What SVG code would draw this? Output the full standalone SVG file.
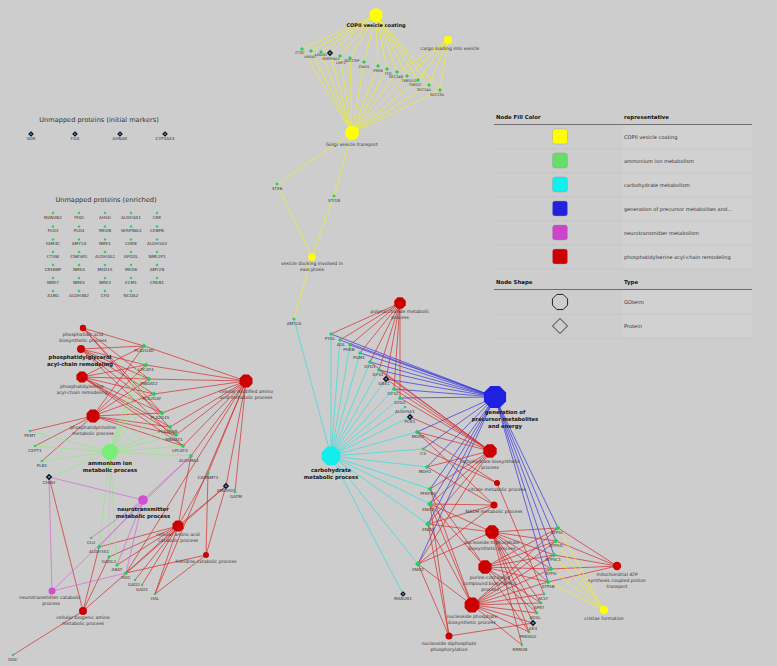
<svg xmlns="http://www.w3.org/2000/svg" xmlns:xlink="http://www.w3.org/1999/xlink" width="777" height="666" viewBox="0 0 777 666">
<style>
.t{font-family:"DejaVu Sans",sans-serif;font-size:4.2px;fill:#333;text-anchor:middle}
.gt{font-size:4.6px}
.sm{font-size:3.6px}
.bt{font-family:"DejaVu Sans",sans-serif;font-size:5.3px;font-weight:bold;fill:#111;text-anchor:middle}
.ti{font-family:"DejaVu Sans",sans-serif;font-size:6.6px;fill:#333;text-anchor:middle}
.lh{font-family:"DejaVu Sans",sans-serif;font-size:5.4px;font-weight:bold;fill:#111}
.lt{font-family:"DejaVu Sans",sans-serif;font-size:5.1px;fill:#333}
#edges line{stroke-width:.7}
.r{stroke:#d42a2a}.y{stroke:#f0f020}.c{stroke:#2ee0e0}.b{stroke:#3232e0}.g{stroke:#8ced7a}.m{stroke:#d466d4}
.pn{fill:#22cc66}
.pm{fill:#3aaee8;stroke:#112;stroke-width:.6px;vector-effect:non-scaling-stroke}
.fr{fill:#cc0000}.fy{fill:#ffff00}.fc{fill:#11eeee}.fb{fill:#2020e0}.fg{fill:#77ee77}.fm{fill:#d050d0}
</style>
<defs>
<polygon id="oct" points="0.383,-0.924 0.924,-0.383 0.924,0.383 0.383,0.924 -0.383,0.924 -0.924,0.383 -0.924,-0.383 -0.383,-0.924"/>
<polygon id="dia" points="0,-1 1,0 0,1 -1,0"/>
</defs>
<rect width="777" height="666" fill="#cdcdcd"/>

<g id="edges">
<g class="y">
<line x1="376" y1="15" x2="302" y2="49"/><line x1="376" y1="15" x2="311" y2="51"/><line x1="376" y1="15" x2="321" y2="52"/><line x1="376" y1="15" x2="330" y2="53"/><line x1="376" y1="15" x2="340" y2="56"/><line x1="376" y1="15" x2="350" y2="58"/><line x1="376" y1="15" x2="364" y2="62"/><line x1="376" y1="15" x2="378" y2="66"/><line x1="376" y1="15" x2="387" y2="69"/><line x1="376" y1="15" x2="397" y2="72"/><line x1="376" y1="15" x2="407" y2="76"/><line x1="376" y1="15" x2="418" y2="80"/><line x1="376" y1="15" x2="429" y2="85"/><line x1="376" y1="15" x2="440" y2="90"/>
<line x1="352" y1="133" x2="302" y2="49"/><line x1="352" y1="133" x2="311" y2="51"/><line x1="352" y1="133" x2="321" y2="52"/><line x1="352" y1="133" x2="330" y2="53"/><line x1="352" y1="133" x2="340" y2="56"/><line x1="352" y1="133" x2="350" y2="58"/><line x1="352" y1="133" x2="364" y2="62"/><line x1="352" y1="133" x2="378" y2="66"/><line x1="352" y1="133" x2="387" y2="69"/><line x1="352" y1="133" x2="397" y2="72"/><line x1="352" y1="133" x2="407" y2="76"/><line x1="352" y1="133" x2="418" y2="80"/><line x1="352" y1="133" x2="429" y2="85"/><line x1="352" y1="133" x2="440" y2="90"/>
<line x1="448" y1="40" x2="397" y2="72"/><line x1="448" y1="40" x2="407" y2="76"/><line x1="448" y1="40" x2="418" y2="80"/><line x1="448" y1="40" x2="429" y2="85"/><line x1="448" y1="40" x2="440" y2="90"/>
<line x1="352" y1="133" x2="277" y2="184"/><line x1="352" y1="133" x2="334" y2="196"/><line x1="277" y1="184" x2="312" y2="257"/><line x1="334" y1="196" x2="312" y2="257"/><line x1="312" y1="257" x2="294" y2="319"/>
</g>
<g class="r">
<line x1="83" y1="328" x2="144" y2="346"/><line x1="83" y1="328" x2="149" y2="379"/><line x1="83" y1="328" x2="162" y2="413"/><line x1="83" y1="328" x2="176" y2="435"/>
<line x1="81" y1="349" x2="144" y2="346"/><line x1="81" y1="349" x2="146" y2="365"/><line x1="81" y1="349" x2="149" y2="379"/><line x1="81" y1="349" x2="154" y2="394"/><line x1="81" y1="349" x2="162" y2="413"/><line x1="81" y1="349" x2="183" y2="446"/>
<line x1="82" y1="377" x2="144" y2="346"/><line x1="82" y1="377" x2="146" y2="365"/><line x1="82" y1="377" x2="149" y2="379"/><line x1="82" y1="377" x2="154" y2="394"/><line x1="82" y1="377" x2="162" y2="413"/><line x1="82" y1="377" x2="170" y2="427"/><line x1="82" y1="377" x2="176" y2="435"/><line x1="82" y1="377" x2="183" y2="446"/>
<line x1="93" y1="416" x2="144" y2="346"/><line x1="93" y1="416" x2="146" y2="365"/><line x1="93" y1="416" x2="149" y2="379"/><line x1="93" y1="416" x2="154" y2="394"/><line x1="93" y1="416" x2="162" y2="413"/><line x1="93" y1="416" x2="170" y2="427"/><line x1="93" y1="416" x2="176" y2="435"/><line x1="93" y1="416" x2="183" y2="446"/><line x1="93" y1="416" x2="30" y2="431"/><line x1="93" y1="416" x2="35" y2="446"/><line x1="93" y1="416" x2="42" y2="461"/>
<line x1="246" y1="381" x2="144" y2="346"/><line x1="246" y1="381" x2="146" y2="365"/><line x1="246" y1="381" x2="149" y2="379"/><line x1="246" y1="381" x2="154" y2="394"/><line x1="246" y1="381" x2="162" y2="413"/><line x1="246" y1="381" x2="170" y2="427"/><line x1="246" y1="381" x2="176" y2="435"/><line x1="246" y1="381" x2="183" y2="446"/><line x1="246" y1="381" x2="191" y2="456"/><line x1="246" y1="381" x2="208" y2="473"/><line x1="246" y1="381" x2="226" y2="486"/><line x1="246" y1="381" x2="235" y2="492"/><line x1="246" y1="381" x2="126" y2="573"/><line x1="246" y1="381" x2="155" y2="594"/>
<line x1="178" y1="526" x2="191" y2="456"/><line x1="178" y1="526" x2="208" y2="473"/><line x1="178" y1="526" x2="226" y2="486"/><line x1="178" y1="526" x2="99" y2="547"/><line x1="178" y1="526" x2="109" y2="557"/><line x1="178" y1="526" x2="117" y2="565"/><line x1="178" y1="526" x2="126" y2="573"/><line x1="178" y1="526" x2="135" y2="580"/><line x1="178" y1="526" x2="142" y2="585"/><line x1="178" y1="526" x2="155" y2="594"/>
<line x1="206" y1="555" x2="208" y2="473"/><line x1="206" y1="555" x2="226" y2="486"/><line x1="206" y1="555" x2="126" y2="573"/><line x1="206" y1="555" x2="155" y2="594"/>
<line x1="83" y1="611" x2="49" y2="477"/><line x1="83" y1="611" x2="99" y2="547"/><line x1="83" y1="611" x2="109" y2="557"/><line x1="83" y1="611" x2="226" y2="486"/><line x1="83" y1="611" x2="13" y2="655"/>
</g>
<g class="g">
<line x1="110" y1="452" x2="30" y2="431"/><line x1="110" y1="452" x2="35" y2="446"/><line x1="110" y1="452" x2="42" y2="461"/><line x1="110" y1="452" x2="49" y2="477"/><line x1="110" y1="452" x2="144" y2="346"/><line x1="110" y1="452" x2="146" y2="365"/><line x1="110" y1="452" x2="149" y2="379"/><line x1="110" y1="452" x2="154" y2="394"/><line x1="110" y1="452" x2="162" y2="413"/><line x1="110" y1="452" x2="170" y2="427"/><line x1="110" y1="452" x2="176" y2="435"/><line x1="110" y1="452" x2="183" y2="446"/><line x1="110" y1="452" x2="191" y2="456"/><line x1="110" y1="452" x2="99" y2="547"/><line x1="110" y1="452" x2="109" y2="557"/><line x1="110" y1="452" x2="117" y2="565"/>
</g>
<g class="m">
<line x1="143" y1="500" x2="49" y2="477"/><line x1="143" y1="500" x2="191" y2="456"/><line x1="143" y1="500" x2="91" y2="538"/><line x1="143" y1="500" x2="99" y2="547"/><line x1="143" y1="500" x2="117" y2="565"/><line x1="143" y1="500" x2="126" y2="573"/>
<line x1="52" y1="591" x2="49" y2="477"/><line x1="52" y1="591" x2="191" y2="456"/><line x1="52" y1="591" x2="126" y2="573"/>
</g>
<g class="c">
<line x1="331" y1="456" x2="294" y2="319"/><line x1="331" y1="456" x2="331" y2="334"/><line x1="331" y1="456" x2="340" y2="340"/><line x1="331" y1="456" x2="350" y2="345"/><line x1="331" y1="456" x2="360" y2="353"/><line x1="331" y1="456" x2="370" y2="362"/><line x1="331" y1="456" x2="379" y2="370"/><line x1="331" y1="456" x2="386" y2="379"/><line x1="331" y1="456" x2="394" y2="389"/><line x1="331" y1="456" x2="400" y2="398"/><line x1="331" y1="456" x2="405" y2="407"/><line x1="331" y1="456" x2="410" y2="417"/><line x1="331" y1="456" x2="417" y2="432"/><line x1="331" y1="456" x2="423" y2="449"/><line x1="331" y1="456" x2="427" y2="467"/><line x1="331" y1="456" x2="430" y2="489"/><line x1="331" y1="456" x2="430" y2="504"/><line x1="331" y1="456" x2="428" y2="524"/><line x1="331" y1="456" x2="418" y2="564"/><line x1="331" y1="456" x2="403" y2="594"/>
</g>
<g class="b">
<line x1="495" y1="397" x2="331" y2="334"/><line x1="495" y1="397" x2="340" y2="340"/><line x1="495" y1="397" x2="350" y2="345"/><line x1="495" y1="397" x2="360" y2="353"/><line x1="495" y1="397" x2="370" y2="362"/><line x1="495" y1="397" x2="379" y2="370"/><line x1="495" y1="397" x2="386" y2="379"/><line x1="495" y1="397" x2="394" y2="389"/><line x1="495" y1="397" x2="400" y2="398"/><line x1="495" y1="397" x2="417" y2="432"/><line x1="495" y1="397" x2="423" y2="449"/><line x1="495" y1="397" x2="427" y2="467"/><line x1="495" y1="397" x2="430" y2="489"/><line x1="495" y1="397" x2="430" y2="504"/><line x1="495" y1="397" x2="428" y2="524"/><line x1="495" y1="397" x2="418" y2="564"/><line x1="495" y1="397" x2="558" y2="528"/><line x1="495" y1="397" x2="556" y2="541"/><line x1="495" y1="397" x2="554" y2="555"/><line x1="495" y1="397" x2="551" y2="569"/><line x1="495" y1="397" x2="548" y2="582"/>
</g>
<g class="r">
<line x1="400" y1="303" x2="331" y2="334"/><line x1="400" y1="303" x2="340" y2="340"/><line x1="400" y1="303" x2="350" y2="345"/><line x1="400" y1="303" x2="360" y2="353"/><line x1="400" y1="303" x2="370" y2="362"/><line x1="400" y1="303" x2="379" y2="370"/><line x1="400" y1="303" x2="386" y2="379"/><line x1="400" y1="303" x2="394" y2="389"/><line x1="400" y1="303" x2="400" y2="398"/>
<line x1="490" y1="451" x2="370" y2="362"/><line x1="490" y1="451" x2="379" y2="370"/><line x1="490" y1="451" x2="386" y2="379"/><line x1="490" y1="451" x2="394" y2="389"/><line x1="490" y1="451" x2="400" y2="398"/><line x1="490" y1="451" x2="410" y2="417"/><line x1="490" y1="451" x2="417" y2="432"/><line x1="490" y1="451" x2="427" y2="467"/><line x1="490" y1="451" x2="430" y2="489"/><line x1="490" y1="451" x2="430" y2="504"/><line x1="490" y1="451" x2="428" y2="524"/><line x1="490" y1="451" x2="418" y2="564"/>
<line x1="497" y1="483" x2="417" y2="432"/><line x1="497" y1="483" x2="423" y2="449"/><line x1="497" y1="483" x2="544" y2="594"/>
<line x1="494" y1="505" x2="417" y2="432"/><line x1="494" y1="505" x2="427" y2="467"/><line x1="494" y1="505" x2="430" y2="504"/><line x1="494" y1="505" x2="428" y2="524"/><line x1="494" y1="505" x2="418" y2="564"/>
<line x1="492" y1="532" x2="430" y2="504"/><line x1="492" y1="532" x2="428" y2="524"/><line x1="492" y1="532" x2="418" y2="564"/><line x1="492" y1="532" x2="558" y2="528"/><line x1="492" y1="532" x2="556" y2="541"/><line x1="492" y1="532" x2="554" y2="555"/><line x1="492" y1="532" x2="551" y2="569"/><line x1="492" y1="532" x2="548" y2="582"/><line x1="492" y1="532" x2="541" y2="603"/><line x1="492" y1="532" x2="537" y2="613"/><line x1="492" y1="532" x2="533" y2="623"/><line x1="492" y1="532" x2="529" y2="632"/><line x1="492" y1="532" x2="522" y2="645"/>
<line x1="485" y1="567" x2="430" y2="489"/><line x1="485" y1="567" x2="430" y2="504"/><line x1="485" y1="567" x2="558" y2="528"/><line x1="485" y1="567" x2="556" y2="541"/><line x1="485" y1="567" x2="554" y2="555"/><line x1="485" y1="567" x2="551" y2="569"/><line x1="485" y1="567" x2="548" y2="582"/><line x1="485" y1="567" x2="541" y2="603"/><line x1="485" y1="567" x2="537" y2="613"/><line x1="485" y1="567" x2="529" y2="632"/>
<line x1="472" y1="605" x2="430" y2="489"/><line x1="472" y1="605" x2="430" y2="504"/><line x1="472" y1="605" x2="428" y2="524"/><line x1="472" y1="605" x2="418" y2="564"/><line x1="472" y1="605" x2="558" y2="528"/><line x1="472" y1="605" x2="556" y2="541"/><line x1="472" y1="605" x2="554" y2="555"/><line x1="472" y1="605" x2="551" y2="569"/><line x1="472" y1="605" x2="548" y2="582"/><line x1="472" y1="605" x2="544" y2="594"/><line x1="472" y1="605" x2="541" y2="603"/><line x1="472" y1="605" x2="537" y2="613"/><line x1="472" y1="605" x2="533" y2="623"/><line x1="472" y1="605" x2="529" y2="632"/><line x1="472" y1="605" x2="522" y2="645"/>
<line x1="449" y1="636" x2="430" y2="504"/><line x1="449" y1="636" x2="428" y2="524"/><line x1="449" y1="636" x2="418" y2="564"/><line x1="449" y1="636" x2="533" y2="623"/>
<line x1="617" y1="566" x2="558" y2="528"/><line x1="617" y1="566" x2="556" y2="541"/><line x1="617" y1="566" x2="554" y2="555"/><line x1="617" y1="566" x2="551" y2="569"/><line x1="617" y1="566" x2="548" y2="582"/>
</g>
<g class="y">
<line x1="604" y1="610" x2="558" y2="528"/><line x1="604" y1="610" x2="556" y2="541"/><line x1="604" y1="610" x2="554" y2="555"/><line x1="604" y1="610" x2="551" y2="569"/><line x1="604" y1="610" x2="548" y2="582"/>
</g>
</g>

<g id="unmapped-initial">
<text class="ti" x="99" y="122">Unmapped proteins (initial markers)</text>
<use href="#dia" class="pm" transform="translate(31,134) scale(2)"/><text class="t" x="31" y="140">SDR</text>
<use href="#dia" class="pm" transform="translate(75,134) scale(2)"/><text class="t" x="75" y="140">FGA</text>
<use href="#dia" class="pm" transform="translate(120,134) scale(2)"/><text class="t" x="120" y="140">AHNAK</text>
<use href="#dia" class="pm" transform="translate(165,134) scale(2)"/><text class="t" x="165" y="140">CYP3A43</text>
</g>
<g id="unmapped-enriched">
<text class="ti" x="106" y="202">Unmapped proteins (enriched)</text>
<g class="pn">
<use href="#dia" transform="translate(53,213) scale(1.5)"/><use href="#dia" transform="translate(79,213) scale(1.5)"/><use href="#dia" transform="translate(105,213) scale(1.5)"/><use href="#dia" transform="translate(131,213) scale(1.5)"/><use href="#dia" transform="translate(157,213) scale(1.5)"/>
<use href="#dia" transform="translate(53,226.5) scale(1.5)"/><use href="#dia" transform="translate(79,226.5) scale(1.5)"/><use href="#dia" transform="translate(105,226.5) scale(1.5)"/><use href="#dia" transform="translate(131,226.5) scale(1.5)"/><use href="#dia" transform="translate(157,226.5) scale(1.5)"/>
<use href="#dia" transform="translate(53,239.5) scale(1.5)"/><use href="#dia" transform="translate(79,239.5) scale(1.5)"/><use href="#dia" transform="translate(105,239.5) scale(1.5)"/><use href="#dia" transform="translate(131,239.5) scale(1.5)"/><use href="#dia" transform="translate(157,239.5) scale(1.5)"/>
<use href="#dia" transform="translate(53,252) scale(1.5)"/><use href="#dia" transform="translate(79,252) scale(1.5)"/><use href="#dia" transform="translate(105,252) scale(1.5)"/><use href="#dia" transform="translate(131,252) scale(1.5)"/><use href="#dia" transform="translate(157,252) scale(1.5)"/>
<use href="#dia" transform="translate(53,265) scale(1.5)"/><use href="#dia" transform="translate(79,265) scale(1.5)"/><use href="#dia" transform="translate(105,265) scale(1.5)"/><use href="#dia" transform="translate(131,265) scale(1.5)"/><use href="#dia" transform="translate(157,265) scale(1.5)"/>
<use href="#dia" transform="translate(53,278) scale(1.5)"/><use href="#dia" transform="translate(79,278) scale(1.5)"/><use href="#dia" transform="translate(105,278) scale(1.5)"/><use href="#dia" transform="translate(131,278) scale(1.5)"/><use href="#dia" transform="translate(157,278) scale(1.5)"/>
<use href="#dia" transform="translate(53,291) scale(1.5)"/><use href="#dia" transform="translate(79,291) scale(1.5)"/><use href="#dia" transform="translate(105,291) scale(1.5)"/><use href="#dia" transform="translate(131,291) scale(1.5)"/>
</g>
<g>
<text class="t" x="53" y="218.5">MAN2B2</text><text class="t" x="79" y="218.5">PISD</text><text class="t" x="105" y="218.5">AHSG</text><text class="t" x="131" y="218.5">ALDH3A1</text><text class="t" x="157" y="218.5">CRK</text>
<text class="t" x="53" y="232">PLD3</text><text class="t" x="79" y="232">PLD4</text><text class="t" x="105" y="232">MED8</text><text class="t" x="131" y="232">SERPINA3</text><text class="t" x="157" y="232">CEBPB</text>
<text class="t" x="53" y="245">FAM3C</text><text class="t" x="79" y="245">AMY1A</text><text class="t" x="105" y="245">NME1</text><text class="t" x="131" y="245">CDK8</text><text class="t" x="157" y="245">ALDH1A3</text>
<text class="t" x="53" y="257.5">CTSW</text><text class="t" x="79" y="257.5">CNKSR1</text><text class="t" x="105" y="257.5">ALDH3A2</text><text class="t" x="131" y="257.5">APOOL</text><text class="t" x="157" y="257.5">NME2P1</text>
<text class="t" x="53" y="270.5">CREBBP</text><text class="t" x="79" y="270.5">NME4</text><text class="t" x="105" y="270.5">MED15</text><text class="t" x="131" y="270.5">MED6</text><text class="t" x="157" y="270.5">AMY2B</text>
<text class="t" x="53" y="283.5">NME7</text><text class="t" x="79" y="283.5">NME5</text><text class="t" x="105" y="283.5">NME3</text><text class="t" x="131" y="283.5">ECM1</text><text class="t" x="157" y="283.5">CREB1</text>
<text class="t" x="53" y="296.5">A1BG</text><text class="t" x="79" y="296.5">ALDH3B2</text><text class="t" x="105" y="296.5">CFD</text><text class="t" x="131" y="296.5">NCOA2</text>
</g>
</g>

<g id="legend">
<rect x="623" y="125" width="129" height="144" fill="#d1d1d1"/>
<rect x="623" y="290" width="129" height="48" fill="#d1d1d1"/>
<g stroke="#c3c3c3" stroke-width=".6">
<line x1="494" y1="149" x2="752" y2="149"/><line x1="494" y1="173" x2="752" y2="173"/><line x1="494" y1="197" x2="752" y2="197"/><line x1="494" y1="221" x2="752" y2="221"/><line x1="494" y1="245" x2="752" y2="245"/><line x1="494" y1="269" x2="752" y2="269"/>
<line x1="494" y1="314" x2="752" y2="314"/><line x1="494" y1="338" x2="752" y2="338"/>
</g>
<text class="lh" x="496" y="119">Node Fill Color</text><text class="lh" x="624" y="119">representative</text>
<line x1="494" y1="124.5" x2="752" y2="124.5" stroke="#555" stroke-width=".8"/>
<rect x="552.5" y="129" width="15" height="15" rx="2.5" fill="#ffff00" stroke="#999" stroke-width=".4"/>
<rect x="552.5" y="153" width="15" height="15" rx="2.5" fill="#66dd66" stroke="#999" stroke-width=".4"/>
<rect x="552.5" y="177" width="15" height="15" rx="2.5" fill="#11eeee" stroke="#999" stroke-width=".4"/>
<rect x="552.5" y="201" width="15" height="15" rx="2.5" fill="#2222dd" stroke="#999" stroke-width=".4"/>
<rect x="552.5" y="225" width="15" height="15" rx="2.5" fill="#cc44cc" stroke="#999" stroke-width=".4"/>
<rect x="552.5" y="249" width="15" height="15" rx="2.5" fill="#cc0000" stroke="#999" stroke-width=".4"/>
<text class="lt" x="624" y="139">COPII vesicle coating</text>
<text class="lt" x="624" y="163">ammonium ion metabolism</text>
<text class="lt" x="624" y="187">carbohydrate metabolism</text>
<text class="lt" x="624" y="211">generation of precursor metabolites and...</text>
<text class="lt" x="624" y="235">neurotransmitter metabolism</text>
<text class="lt" x="624" y="259">phosphatidylserine acyl-chain remodeling</text>
<text class="lh" x="496" y="284">Node Shape</text><text class="lh" x="624" y="284">Type</text>
<line x1="494" y1="289.5" x2="752" y2="289.5" stroke="#555" stroke-width=".8"/>
<use href="#oct" transform="translate(560,302) scale(8.2)" fill="none" stroke="#111" stroke-width=".11"/>
<use href="#dia" transform="translate(560,326) scale(7.5)" fill="none" stroke="#111" stroke-width=".11"/>
<text class="lt" x="624" y="304">GOterm</text>
<text class="lt" x="624" y="328">Protein</text>
</g>

<g id="go-copii"><use href="#oct" class="fy" transform="translate(376,15) scale(7)"/><text class="bt" x="376" y="27" style="font-size:5px">COPII vesicle coating</text></g>
<g id="go-cargo"><circle cx="448" cy="40" r="4" class="fy"/><text class="t gt" x="450" y="50">cargo loading into vesicle</text></g>
<g id="go-golgi"><circle cx="352" cy="133" r="7" class="fy"/><text class="t gt" x="352" y="146">Golgi vesicle transport</text></g>
<g id="go-docking"><circle cx="312" cy="257" r="3.8" class="fy"/><text class="t gt" x="312" y="265">vesicle docking involved in</text><text class="t gt" x="312" y="271">exocytosis</text></g>

<g id="go-pa"><circle cx="83" cy="328" r="3.2" class="fr"/><text class="t gt" x="83" y="336">phosphatidic acid</text><text class="t gt" x="83" y="342">biosynthetic process</text></g>
<g id="go-pg"><circle cx="81" cy="349" r="4" class="fr"/><text class="bt" x="80" y="359">phosphatidylglycerol</text><text class="bt" x="80" y="366">acyl-chain remodeling</text></g>
<g id="go-ps"><use href="#oct" class="fr" transform="translate(82,377) scale(6)"/><text class="t gt" x="82" y="388">phosphatidylserine</text><text class="t gt" x="82" y="394">acyl-chain remodeling</text></g>
<g id="go-pc"><use href="#oct" class="fr" transform="translate(93,416) scale(7)"/><text class="t gt" x="93" y="429">phosphatidylcholine</text><text class="t gt" x="93" y="435">metabolic process</text></g>
<g id="go-cm"><use href="#oct" class="fr" transform="translate(246,381) scale(7)"/><text class="t gt" x="246" y="393">cellular modified amino</text><text class="t gt" x="246" y="399">acid metabolic process</text></g>
<g id="go-amm"><circle cx="110" cy="452" r="8" class="fg"/><text class="bt" x="110" y="465">ammonium ion</text><text class="bt" x="110" y="472">metabolic process</text></g>
<g id="go-ntm"><circle cx="143" cy="500" r="4.8" class="fm"/><text class="bt" x="143" y="511">neurotransmitter</text><text class="bt" x="143" y="518">metabolic process</text></g>
<g id="go-caa"><use href="#oct" class="fr" transform="translate(178,526) scale(6)"/><text class="t gt" x="178" y="536">cellular amino acid</text><text class="t gt" x="178" y="542">catabolic process</text></g>
<g id="go-his"><circle cx="206" cy="555" r="3" class="fr"/><text class="t gt" x="206" y="563">histidine catabolic process</text></g>
<g id="go-ntc"><circle cx="52" cy="591" r="3.5" class="fm"/><text class="t gt" x="50" y="599">neurotransmitter catabolic</text><text class="t gt" x="51" y="605">process</text></g>
<g id="go-bam"><circle cx="83" cy="611" r="4" class="fr"/><text class="t gt" x="83" y="619">cellular biogenic amine</text><text class="t gt" x="83" y="625">metabolic process</text></g>

<g id="go-poly"><use href="#oct" class="fr" transform="translate(400,303) scale(6.2)"/><text class="t gt" x="400" y="313">polysaccharide metabolic</text><text class="t gt" x="400" y="319">process</text></g>
<g id="go-gen"><use href="#oct" class="fb" transform="translate(495,397) scale(12)"/><text class="bt" x="505" y="414">generation of</text><text class="bt" x="505" y="421">precursor metabolites</text><text class="bt" x="505" y="428">and energy</text></g>
<g id="go-carb"><use href="#oct" class="fc" transform="translate(331,456) scale(10)"/><text class="bt" x="331" y="472">carbohydrate</text><text class="bt" x="331" y="479">metabolic process</text></g>
<g id="go-cbs"><use href="#oct" class="fr" transform="translate(490,451) scale(7.2)"/><text class="t gt" x="490" y="463">carbohydrate biosynthetic</text><text class="t gt" x="490" y="469">process</text></g>
<g id="go-cit"><circle cx="497" cy="483" r="3" class="fr"/><text class="t gt" x="497" y="491">citrate metabolic process</text></g>
<g id="go-nadh"><circle cx="494" cy="505" r="3.5" class="fr"/><text class="t gt" x="494" y="513">NADH metabolic process</text></g>
<g id="go-ntp"><use href="#oct" class="fr" transform="translate(492,532) scale(7.2)"/><text class="t gt" x="492" y="544">nucleoside triphosphate</text><text class="t gt" x="492" y="550">biosynthetic process</text></g>
<g id="go-pur"><use href="#oct" class="fr" transform="translate(485,567) scale(7.2)"/><text class="t gt" x="490" y="579">purine-containing</text><text class="t gt" x="490" y="585">compound biosynthetic</text><text class="t gt" x="490" y="591">process</text></g>
<g id="go-nps"><use href="#oct" class="fr" transform="translate(472,605) scale(8)"/><text class="t gt" x="472" y="618">nucleoside phosphate</text><text class="t gt" x="472" y="624">biosynthetic process</text></g>
<g id="go-ndp"><circle cx="449" cy="636" r="3.5" class="fr"/><text class="t gt" x="449" y="645">nucleoside diphosphate</text><text class="t gt" x="449" y="651">phosphorylation</text></g>
<g id="go-mito"><circle cx="617" cy="566" r="4.2" class="fr"/><text class="t gt" x="617" y="576">mitochondrial ATP</text><text class="t gt" x="617" y="582">synthesis coupled proton</text><text class="t gt" x="617" y="588">transport</text></g>
<g id="go-cristae"><circle cx="604" cy="610" r="4.2" class="fy"/><text class="t gt" x="604" y="620">cristae formation</text></g>

<g id="p-ctsc"><use href="#dia" class="pn" transform="translate(302,49) scale(2)"/><text class="t sm" x="300" y="54">CTSC</text></g>
<g id="p-lman2"><use href="#dia" class="pn" transform="translate(311,51) scale(2)"/><text class="t sm" x="310" y="57.5">LMAN2</text></g>
<g id="p-lman1"><use href="#dia" class="pn" transform="translate(321,52) scale(2)"/><text class="t sm" x="321" y="55.5">LMAN1</text></g>
<g id="p-serpina1"><use href="#dia" class="pm" transform="translate(330,53) scale(2.2)"/><text class="t sm" x="331" y="60">SERPINA1</text></g>
<g id="p-lmf2"><use href="#dia" class="pn" transform="translate(340,56) scale(2)"/><text class="t sm" x="341" y="63.5">LMF2</text></g>
<g id="p-sec23ip"><use href="#dia" class="pn" transform="translate(350,58) scale(2)"/><text class="t sm" x="352" y="62">SEC23IP</text></g>
<g id="p-cnih1"><use href="#dia" class="pn" transform="translate(364,62) scale(2)"/><text class="t sm" x="364" y="67.5">CNIH1</text></g>
<g id="p-preb"><use href="#dia" class="pn" transform="translate(378,66) scale(2)"/><text class="t sm" x="378" y="71.5">PREB</text></g>
<g id="p-tfg"><use href="#dia" class="pn" transform="translate(387,69) scale(2)"/><text class="t sm" x="388" y="74.5">TFG</text></g>
<g id="p-sec24b"><use href="#dia" class="pn" transform="translate(397,72) scale(2)"/><text class="t sm" x="396" y="78">SEC24B</text></g>
<g id="p-tmed10"><use href="#dia" class="pn" transform="translate(407,76) scale(2)"/><text class="t sm" x="409" y="82">TMED10</text></g>
<g id="p-tmed2"><use href="#dia" class="pn" transform="translate(418,80) scale(2)"/><text class="t sm" x="415" y="86">TMED2</text></g>
<g id="p-sec24a"><use href="#dia" class="pn" transform="translate(429,85) scale(2)"/><text class="t sm" x="424" y="91">SEC24A</text></g>
<g id="p-sec23a"><use href="#dia" class="pn" transform="translate(440,90) scale(2)"/><text class="t sm" x="437" y="96">SEC23A</text></g>
<g id="p-stx6"><use href="#dia" class="pn" transform="translate(277,184) scale(1.8)"/><text class="t" x="277" y="190">STX6</text></g>
<g id="p-vti1b"><use href="#dia" class="pn" transform="translate(334,196) scale(1.8)"/><text class="t" x="334" y="202">VTI1B</text></g>
<g id="p-amy2a"><use href="#dia" class="pn" transform="translate(294,319) scale(1.8)"/><text class="t" x="294" y="325">AMY2A</text></g>

<g id="p-pla2g4d"><use href="#dia" class="pn" transform="translate(144,346) scale(2.4)"/><text class="t" x="144" y="352">PLA2G4D</text></g>
<g id="p-lpcat4"><use href="#dia" class="pn" transform="translate(146,365) scale(2.4)"/><text class="t" x="146" y="371">LPCAT4</text></g>
<g id="p-mboat2"><use href="#dia" class="pn" transform="translate(149,379) scale(2.4)"/><text class="t" x="149" y="385">MBOAT2</text></g>
<g id="p-pla2g4f"><use href="#dia" class="pn" transform="translate(154,394) scale(2.4)"/><text class="t" x="152" y="400">PLA2G4F</text></g>
<g id="p-pla2g15"><use href="#dia" class="pn" transform="translate(162,413) scale(2.4)"/><text class="t" x="160" y="419">PLA2G15</text></g>
<g id="p-pla2g4b"><use href="#dia" class="pn" transform="translate(170,427) scale(2.2)"/><text class="t" x="168" y="433">PLA2G4B</text></g>
<g id="p-mboat1"><use href="#dia" class="pn" transform="translate(176,435) scale(2.2)"/><text class="t" x="174" y="441">MBOAT1</text></g>
<g id="p-lpcat3"><use href="#dia" class="pn" transform="translate(183,446) scale(2.2)"/><text class="t" x="180" y="452">LPCAT3</text></g>
<g id="p-aldh9a1"><use href="#dia" class="pn" transform="translate(191,456) scale(2.2)"/><text class="t" x="189" y="462">ALDH9A1</text></g>
<g id="p-pemt"><use href="#dia" class="pn" transform="translate(30,431) scale(1.6)"/><text class="t" x="30" y="437">PEMT</text></g>
<g id="p-cept1"><use href="#dia" class="pn" transform="translate(35,446) scale(1.6)"/><text class="t" x="35" y="452">CEPT1</text></g>
<g id="p-plb1"><use href="#dia" class="pn" transform="translate(42,461) scale(1.6)"/><text class="t" x="42" y="467">PLB1</text></g>
<g id="p-chdh"><use href="#dia" class="pm" transform="translate(49,477) scale(2.3)"/><text class="t" x="49" y="483.5">CHDH</text></g>
<g id="p-carnmt1"><use href="#dia" class="pn" transform="translate(208,473) scale(1.8)"/><text class="t" x="208" y="479">CARNMT1</text></g>
<g id="p-amdhd1"><use href="#dia" class="pm" transform="translate(226,486) scale(2.2)"/><text class="t" x="226" y="492">AMDHD1</text></g>
<g id="p-gatm"><use href="#dia" class="pn" transform="translate(235,492) scale(1.6)"/><text class="t" x="236" y="498">GATM</text></g>
<g id="p-clu"><use href="#dia" class="pn" transform="translate(91,538) scale(1.5)"/><text class="t" x="91" y="544">CLU</text></g>
<g id="p-aldh7a1"><use href="#dia" class="pn" transform="translate(99,547) scale(2.2)"/><text class="t" x="99" y="553">ALDH7A1</text></g>
<g id="p-gadl1"><use href="#dia" class="pn" transform="translate(109,557) scale(1.9)"/><text class="t" x="109" y="563">GADL1</text></g>
<g id="p-abat"><use href="#dia" class="pn" transform="translate(117,565) scale(1.9)"/><text class="t" x="117" y="571">ABAT</text></g>
<g id="p-hdc"><use href="#dia" class="pn" transform="translate(126,573) scale(2.3)"/><text class="t" x="126" y="579">HDC</text></g>
<g id="p-gad2"><use href="#dia" class="pn" transform="translate(135,580) scale(1.5)"/><text class="t" x="134" y="586">GAD2</text></g>
<g id="p-gad1"><use href="#dia" class="pn" transform="translate(142,585) scale(1.5)"/><text class="t" x="142" y="591">GAD1</text></g>
<g id="p-hal"><use href="#dia" class="pn" transform="translate(155,594) scale(1.6)"/><text class="t" x="155" y="600">HAL</text></g>
<g id="p-ddc"><use href="#dia" class="pn" transform="translate(13,655) scale(1.5)"/><text class="t" x="13" y="661">DDC</text></g>

<g id="p-pygl"><use href="#dia" class="pn" transform="translate(331,334) scale(2)"/><text class="t" x="330" y="340">PYGL</text></g>
<g id="p-agl"><use href="#dia" class="pn" transform="translate(340,340) scale(2)"/><text class="t" x="341" y="346">AGL</text></g>
<g id="p-phkb"><use href="#dia" class="pn" transform="translate(350,345) scale(2)"/><text class="t" x="349" y="351">PHKB</text></g>
<g id="p-pgm1"><use href="#dia" class="pn" transform="translate(360,353) scale(2)"/><text class="t" x="359" y="359">PGM1</text></g>
<g id="p-gyg1"><use href="#dia" class="pn" transform="translate(370,362) scale(2.2)"/><text class="t" x="370" y="368">GYG1</text></g>
<g id="p-gys1"><use href="#dia" class="pn" transform="translate(379,370) scale(2.2)"/><text class="t" x="378" y="376">GYS1</text></g>
<g id="p-gbe1"><use href="#dia" class="pm" transform="translate(386,379) scale(2.3)"/><text class="t" x="384" y="385">GBE1</text></g>
<g id="p-gys2"><use href="#dia" class="pn" transform="translate(394,389) scale(2.2)"/><text class="t" x="393" y="395">GYS2</text></g>
<g id="p-gyg2"><use href="#dia" class="pn" transform="translate(400,398) scale(2.2)"/><text class="t" x="400" y="404">GYG2</text></g>
<g id="p-aldh5a1"><use href="#dia" class="pn" transform="translate(405,407) scale(1.5)"/><text class="t" x="405" y="413">ALDH5A1</text></g>
<g id="p-pck1"><use href="#dia" class="pm" transform="translate(410,417) scale(2.2)"/><text class="t" x="410" y="423">PCK1</text></g>
<g id="p-mdh2"><use href="#dia" class="pn" transform="translate(417,432) scale(2.2)"/><text class="t" x="418" y="438">MDH2</text></g>
<g id="p-cs"><use href="#dia" class="pn" transform="translate(423,449) scale(1.7)"/><text class="t" x="423" y="455">CS</text></g>
<g id="p-mdh1"><use href="#dia" class="pn" transform="translate(427,467) scale(2.3)"/><text class="t" x="425" y="473">MDH1</text></g>
<g id="p-pfkfb2"><use href="#dia" class="pn" transform="translate(430,489) scale(2.6)"/><text class="t" x="428" y="495">PFKFB2</text></g>
<g id="p-eno3"><use href="#dia" class="pn" transform="translate(430,504) scale(3)"/><text class="t" x="428" y="511">ENO3</text></g>
<g id="p-eno1"><use href="#dia" class="pn" transform="translate(428,524) scale(3)"/><text class="t" x="428" y="531">ENO1</text></g>
<g id="p-eno2"><use href="#dia" class="pn" transform="translate(418,564) scale(3)"/><text class="t" x="418" y="571">ENO2</text></g>
<g id="p-man2b1"><use href="#dia" class="pm" transform="translate(403,594) scale(2)"/><text class="t" x="403" y="600">MAN2B1</text></g>
<g id="p-atp5l"><use href="#dia" class="pn" transform="translate(558,528) scale(2.6)"/><text class="t" x="557" y="534">ATP5L</text></g>
<g id="p-atp5d"><use href="#dia" class="pn" transform="translate(556,541) scale(2.6)"/><text class="t" x="556" y="547">ATP5D</text></g>
<g id="p-atp5c1"><use href="#dia" class="pn" transform="translate(554,555) scale(2.6)"/><text class="t" x="553" y="561">ATP5C1</text></g>
<g id="p-atp5i"><use href="#dia" class="pn" transform="translate(551,569) scale(2.6)"/><text class="t" x="551" y="575">ATP5I</text></g>
<g id="p-atp5b"><use href="#dia" class="pn" transform="translate(548,582) scale(2.6)"/><text class="t" x="548" y="588">ATP5B</text></g>
<g id="p-acly"><use href="#dia" class="pn" transform="translate(544,594) scale(1.7)"/><text class="t" x="543" y="600">ACLY</text></g>
<g id="p-aprt"><use href="#dia" class="pn" transform="translate(541,603) scale(1.7)"/><text class="t" x="539" y="609">APRT</text></g>
<g id="p-adsl"><use href="#dia" class="pn" transform="translate(537,613) scale(1.7)"/><text class="t" x="535" y="619">ADSL</text></g>
<g id="p-ak4"><use href="#dia" class="pm" transform="translate(533,623) scale(2.2)"/><text class="t" x="533" y="629.5">AK4</text></g>
<g id="p-prkag2"><use href="#dia" class="pn" transform="translate(529,632) scale(1.5)"/><text class="t" x="528" y="638">PRKAG2</text></g>
<g id="p-rrm2b"><use href="#dia" class="pn" transform="translate(522,645) scale(1.5)"/><text class="t" x="520" y="651">RRM2B</text></g>
</svg>
